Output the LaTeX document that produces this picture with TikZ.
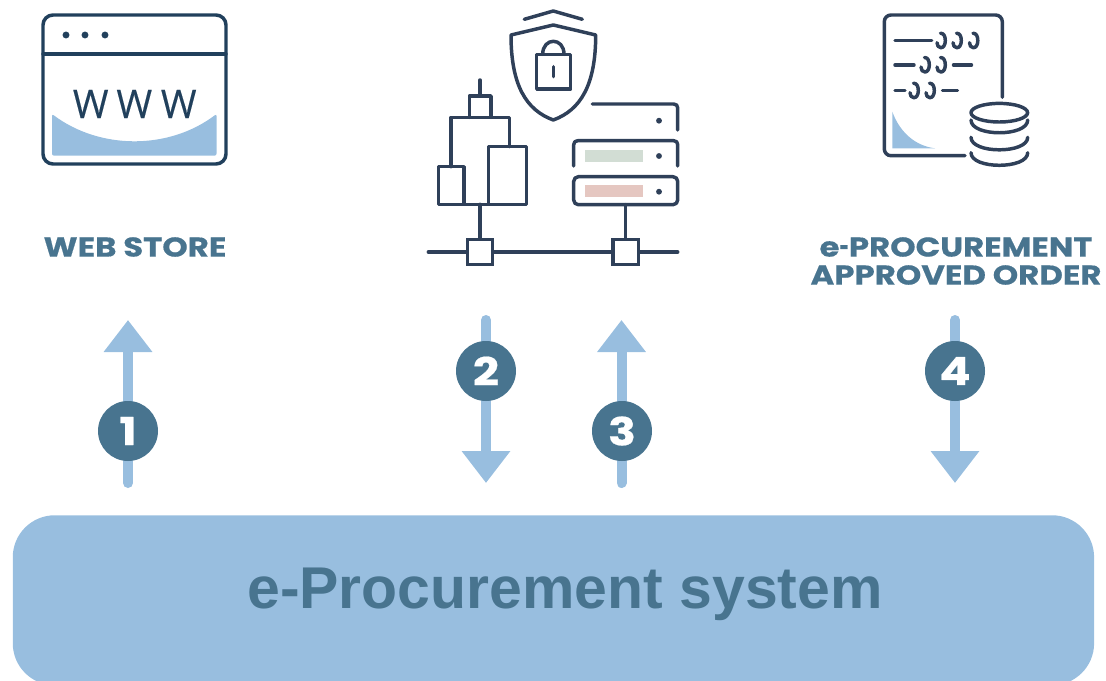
\documentclass[tikz,border=0pt]{standalone}
\usepackage{fontspec}
\setmainfont{Liberation Sans}
\newfontfamily\poppinsfont[BoldFeatures={FakeStretch=1.19,FakeBold=0.5}]{Poppins}
\newfontfamily\opensansfont[FakeBold=0.25]{Open Sans}
\usetikzlibrary{arrows.meta}
\definecolor{skyblue}{HTML}{98BEDF}
\definecolor{tealdark}{HTML}{48748F}
\definecolor{icondark}{HTML}{2F4059}
\definecolor{windark}{HTML}{21405C}
\definecolor{srvgreen}{HTML}{D2DDD4}
\definecolor{srvpink}{HTML}{E5C7C1}
\tikzset{
  iconline/.style={draw=icondark,line width=2.6pt,line cap=round,line join=round},
  winline/.style={draw=windark,line width=2.6pt,line cap=round,line join=round},
  flowarrow/.style={draw=skyblue,line width=7.5pt,line cap=round,-{Triangle[length=24pt,width=35pt,sharp]}},
  stepdisc/.style={circle,fill=tealdark,text=white,minimum size=45pt,inner sep=0pt,font=\poppinsfont\bfseries\fontsize{29}{29}\selectfont},
  caption/.style={text=tealdark,font=\poppinsfont\bfseries\fontsize{20.4}{21}\selectfont,inner sep=0pt,align=center},
  wwwletter/.style={text=windark,font=\opensansfont\fontsize{29.5}{30}\selectfont,inner sep=0pt,xscale=.98},
  hookmark/.pic={\draw[iconline] (-0.5,-7.5) .. controls (3,-7.5) and (4.3,-4) .. (4.3,0) .. controls (4.3,4) and (2.5,7) .. (0,7) .. controls (-2.5,7) and (-4,5) .. (-4,2);}
}
\begin{document}
\begin{tikzpicture}[x=0.75pt,y=-0.75pt]
\useasboundingbox (0,0) rectangle (1106,681);
\begin{scope}
\clip (0,0) rectangle (1106,681);
\node[draw=none,fill=skyblue,rounded corners=31.5pt,minimum width=811pt,minimum height=127.5pt,inner sep=0pt,anchor=north west] (system) at (12.5,515) {};
\end{scope}
\node[text=tealdark,font=\bfseries\fontsize{44.2}{44}\selectfont,inner sep=0pt] (systemlabel) at (565,594) {e-Procurement system};

% web store icon
\fill[skyblue,rounded corners=1.5pt] (52,114) .. controls (100,150) and (169,150) .. (216.5,114) -- (216.5,155.7) -- (52,155.7) -- cycle;
\draw[winline,rounded corners=7.5pt] (43,15) rectangle (226,164);
\draw[winline] (43,54) -- (226,54);
\foreach \dx in {66,85,105} \fill[windark] (\dx,35) circle (2.6pt);
\node[wwwletter] (w1) at (90.7,104) {W};
\node[wwwletter] (w2) at (134.3,104) {W};
\node[wwwletter] (w3) at (178.7,104) {W};
\node[caption] (webstore) at (135,247) {WEB STORE};

% shield
\draw[iconline] (524.3,19.3) -- (553.3,11) -- (582.3,19.3);
\draw[iconline] (553.3,25) -- (511,35) .. controls (511,85) and (526,110) .. (553.3,120) .. controls (580.6,110) and (595.7,85) .. (595.7,35) -- cycle;
\draw[iconline] (536.7,54.3) rectangle (570.7,89);
\draw[iconline] (542.7,54.3) .. controls (542.7,37) and (564,37) .. (564,54.3);
\draw[iconline] (553.3,66.7) -- (553.3,76.7);

% buildings
\draw[iconline] (480,80) -- (480,96);
\draw[iconline] (469.3,117.3) -- (469.3,96) -- (491,96) -- (491,117.3);
\draw[iconline] (451,166.7) -- (451,117.3) -- (509.3,117.3) -- (509.3,146.7);
\draw[iconline] (488.3,146.7) rectangle (526.7,204.3);
\draw[iconline] (438.3,166.7) rectangle (464,204.3);
\draw[iconline] (464,204.3) -- (488.3,204.3);
\node[draw=icondark,line width=2.6pt,minimum size=19pt,inner sep=0pt] (busA) at (480,252) {};
\node[draw=icondark,line width=2.6pt,minimum size=19pt,inner sep=0pt] (busB) at (625.7,252) {};
\coordinate (busL) at (428.3,252);
\coordinate (busR) at (677.7,252);
\coordinate (bldg) at (480,204.3);
\coordinate (srv) at (625.7,204.7);
\draw[iconline] (busL) -- (busA);
\draw[iconline] (busA) -- (busB);
\draw[iconline] (busB) -- (busR);
\draw[iconline] (bldg) -- (busA);
\draw[iconline] (srv) -- (busB);

% servers
\fill[srvgreen] (585,150) rectangle (643,162);
\fill[srvpink] (585,185) rectangle (643,197);
\draw[iconline] (592.3,104) -- (673.7,104) .. controls (676.2,104) and (677.7,105.5) .. (677.7,108) -- (677.7,130);
\draw[iconline] (573.7,166) -- (573.7,144.7) .. controls (573.7,142.2) and (575.2,140.7) .. (577.7,140.7) -- (673.7,140.7) .. controls (676.2,140.7) and (677.7,142.2) .. (677.7,144.7) -- (677.7,166);
\draw[iconline,rounded corners=3.5pt] (573.7,176.7) rectangle (677.7,204.7);
\foreach \dy in {120.7,156,191.7} \fill[icondark] (659,\dy) circle (2.2pt);

% document icon
\fill[skyblue] (892.3,111.7) .. controls (900,133) and (916,146) .. (935,148.3) -- (892.3,148.3) -- cycle;
\draw[iconline,rounded corners=5pt] (965,155.7) -- (884.3,155.7) -- (884.3,15) -- (1002.3,15) -- (1002.3,97.3);
\draw[iconline] (895,40.7) -- (931.7,40.7);
\draw[iconline] (895,65) -- (914,65);
\draw[iconline] (953.5,65) -- (971.5,65);
\draw[iconline] (895,90.7) -- (905,90.7);
\draw[iconline] (942.5,90.7) -- (957.5,90.7);
\foreach \hx in {941,957,973.5} \pic at (\hx,40.7) {hookmark};
\foreach \hx in {925,941} \pic at (\hx,65) {hookmark};
\foreach \hx in {914,930} \pic at (\hx,90.7) {hookmark};

% database
\draw[iconline] (999.3,112.7) ellipse [x radius=28.3,y radius=9.3];
\draw[iconline] (971,120) .. controls (971,137) and (1027.7,137) .. (1027.7,120);
\draw[iconline] (971,137.3) .. controls (971,154) and (1027.7,154) .. (1027.7,137.3);
\draw[iconline] (971,152.7) .. controls (971,169.5) and (1027.7,169.5) .. (1027.7,152.7);

\node[caption] (eproc) at (956,261) {e\scalebox{0.5}[1]{-}PROCUREMENT\\APPROVED ORDER};

% flow arrows
\coordinate (a1s) at (128,483);
\coordinate (a1e) at (128,320);
\coordinate (a2s) at (486,320);
\coordinate (a2e) at (486,483);
\coordinate (a3s) at (621.5,483);
\coordinate (a3e) at (621.5,320);
\coordinate (a4s) at (955,320);
\coordinate (a4e) at (955,483);
\draw[flowarrow] (a1s) -- (a1e);
\draw[flowarrow] (a2s) -- (a2e);
\draw[flowarrow] (a3s) -- (a3e);
\draw[flowarrow] (a4s) -- (a4e);
\node[stepdisc] (n1) at (128,431) {1};
\node[stepdisc] (n2) at (486,371) {2};
\node[stepdisc] (n3) at (622,431) {3};
\node[stepdisc] (n4) at (955,371) {4};
\end{tikzpicture}
\end{document}
